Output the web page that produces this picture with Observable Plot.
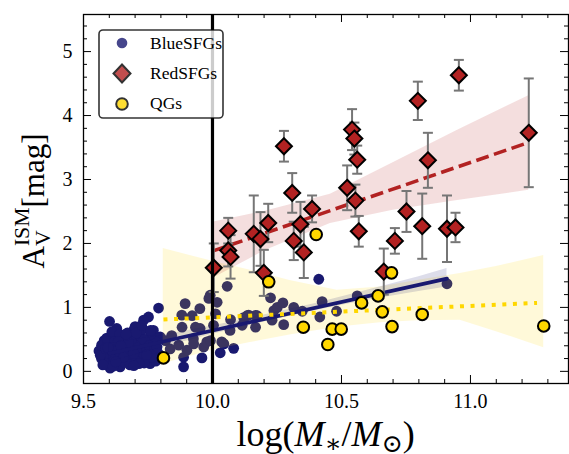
<!DOCTYPE html>
<html><head><meta charset="utf-8">
<script src="https://cdn.jsdelivr.net/npm/d3@7"></script>
<script src="https://cdn.jsdelivr.net/npm/@observablehq/plot@0.6"></script>
<style>
body{margin:0;background:#fff;}
#wrap{position:relative;width:569px;height:454px;font-family:"Liberation Serif","Times New Roman",Times,"DejaVu Serif",serif;color:#000;}
#xlab{position:absolute;left:83px;width:485px;top:416px;text-align:center;font-size:36px;line-height:36px;white-space:nowrap;}
#xlab sub{font-size:0.7em;vertical-align:-0.22em;line-height:0;}
#ylab{position:absolute;left:33px;top:201px;transform:translate(-50%,-50%) rotate(-90deg);white-space:nowrap;font-size:31px;line-height:31px;}
#ylab .ss{display:inline-block;font-size:0.7em;line-height:0.95em;vertical-align:-0.3em;text-align:left;}
#legend{position:absolute;left:98px;top:29px;}
#legend text{font-family:"Liberation Serif","Times New Roman",Times,"DejaVu Serif",serif;}
svg.plotmain text{font-family:"Liberation Serif","Times New Roman",Times,"DejaVu Serif",serif !important;}
</style></head>
<body><div id="wrap"></div>
<script>
// ---------- data ----------
const blueX = [9.601,9.791,9.752,9.733,9.580,9.629,9.578,9.642,9.603,9.694,9.771,9.797,9.758,9.707,
  9.570,9.600,9.620,9.660,9.690,9.720,9.750,9.780,
  9.560,9.590,9.610,9.640,9.670,9.700,9.730,9.760,9.790,
  9.570,9.600,9.620,9.650,9.680,9.710,9.740,9.770,
  9.590,9.630,9.660,9.690,9.720,9.750,9.780,
  9.610,9.670,9.730,9.700,
  9.565,9.585,9.655,9.685,9.715,9.745,9.680,9.620,9.640,9.760,9.735,9.766,9.760,
  9.575,9.595,9.615,9.635,9.655,9.675,9.695,9.715,9.735,9.755,9.775,9.625,9.665,9.705,9.745,9.785,9.645,9.695,9.725,
  9.818,9.836,9.842,9.869,9.881,9.882,9.888,9.888,9.894,9.901,9.921,9.926,9.927,9.934,9.951,9.952,9.959,9.966,9.978,9.986,9.991,9.992,
  10.004,10.012,10.018,10.030,10.036,10.044,10.057,10.068,10.070,10.082,10.115,10.121,10.134,10.140,10.167,10.167,10.173,
  10.225,10.231,10.238,10.251,10.273,10.276,10.315,10.348,10.412,10.416,10.425,10.481,10.561,10.909];
const blueY = [0.78,0.99,0.85,0.80,0.48,0.67,0.12,0.07,0.05,0.64,0.64,0.54,0.12,0.17,
  0.20,0.15,0.22,0.14,0.19,0.24,0.20,0.16,
  0.32,0.28,0.34,0.30,0.27,0.33,0.29,0.31,0.28,
  0.41,0.44,0.38,0.42,0.39,0.45,0.40,0.43,
  0.52,0.55,0.50,0.53,0.56,0.50,0.47,
  0.62,0.60,0.66,0.70,
  0.25,0.36,0.35,0.47,0.38,0.35,0.10,0.47,0.58,0.58,0.13,0.22,0.64,
  0.10,0.37,0.08,0.47,0.22,0.45,0.28,0.12,0.49,0.40,0.36,0.15,0.58,0.60,0.26,0.38,0.40,0.09,0.72,
  0.48,0.35,0.56,0.41,0.88,0.69,0.07,0.22,1.06,0.33,0.87,0.51,0.43,0.69,0.98,0.67,0.21,0.38,0.46,1.14,1.19,0.48,
  0.72,0.90,1.08,0.29,0.46,0.43,1.33,0.64,0.81,0.36,0.72,0.84,0.87,0.88,0.875,0.69,0.87,
  1.15,0.80,0.95,1.00,1.07,0.73,1.00,0.94,1.44,0.85,1.09,0.94,1.18,1.37];

const redX = [10.005,10.061,10.061,10.070,10.160,10.186,10.216,10.199,10.277,10.309,10.341,10.315,10.354,10.386,
  10.541,10.550,10.561,10.522,10.554,10.567,10.664,10.707,10.752,10.796,10.813,10.835,10.909,10.942,10.955,11.226];
const redY = [1.62,2.20,1.89,1.79,2.15,2.07,2.32,1.54,3.52,2.79,2.30,2.04,1.86,2.54,
  3.78,3.64,3.31,2.87,2.67,2.19,1.56,2.04,2.50,4.23,2.27,3.30,2.23,2.25,4.63,3.73];
const redErr = [0.38,0.20,0.25,0.34,0.60,0.42,0.30,0.36,0.24,0.31,0.35,0.30,0.40,0.21,
  0.32,0.25,0.22,0.35,0.25,0.24,0.36,0.20,0.32,0.30,0.51,0.43,0.52,0.23,0.24,0.85];

const qgX = [9.810,10.218,10.402,10.694,10.578,10.642,10.658,10.696,10.813,10.352,10.464,10.499,10.447,11.284];
const qgY = [0.21,1.40,2.14,1.54,1.07,1.18,0.93,0.70,0.89,0.69,0.66,0.66,0.42,0.71];

const blueFitX = [9.6, 10.909];
const blueFitY = [0.28, 1.45];
const redFitX = [10.0, 11.226];
const redFitY = [1.88, 3.58];
const qgFitX = [9.81, 11.258];
const qgFitY = [0.81, 1.07];

const blueBandX  = [9.6, 9.8, 10.0, 10.2, 10.4, 10.6, 10.8, 10.909];
const blueBandLo = [0.15, 0.37, 0.58, 0.77, 0.95, 1.11, 1.25, 1.32];
const blueBandHi = [0.43, 0.56, 0.71, 0.88, 1.06, 1.27, 1.48, 1.61];

const redBandX  = [10.0, 10.2, 10.457, 10.7, 10.95, 11.226];
const redBandLo = [1.45, 1.88, 2.31, 2.52, 2.67, 2.83];
const redBandHi = [2.33, 2.50, 2.77, 3.26, 3.77, 4.31];

const qgBandX  = [9.809, 10.0, 10.147, 10.3, 10.483, 10.65, 10.793, 10.96, 11.1, 11.284];
const qgBandLo = [0.12, 0.33, 0.45, 0.57, 0.69, 0.76, 0.79, 0.80, 0.62, 0.37];
const qgBandHi = [1.92, 1.72, 1.58, 1.42, 1.27, 1.32, 1.42, 1.53, 1.64, 1.81];

const massCut = [10.0];
const xMajor = [9.5, 10.0, 10.5, 11.0];
const xMinor = [9.6,9.7,9.8,9.9,10.1,10.2,10.3,10.4,10.6,10.7,10.8,10.9,11.1,11.2,11.3];
const yMajor = [0,1,2,3,4,5];
const yMinor = [0.2,0.4,0.6,0.8,1.2,1.4,1.6,1.8,2.2,2.4,2.6,2.8,3.2,3.4,3.6,3.8,4.2,4.4,4.6,4.8,5.2,5.4];

const seriesNames = ["BlueSFGs","RedSFGs","QGs"];

// ---------- tables ----------
const blue = blueX.map((x,i)=>({x, y: blueY[i]}));
const red = redX.map((x,i)=>({x, y: redY[i], err: redErr[i]}));
const qg = qgX.map((x,i)=>({x, y: qgY[i]}));
const band = (X,L,H)=>X.map((x,i)=>({x, lo: L[i], hi: H[i]}));
const line = (X,Y)=>X.map((x,i)=>({x, y: Y[i]}));

const W = 569, H = 454, mL = 83, mR = 1, mT = 14, mB = 71;
const pw = W - mL - mR, ph = H - mT - mB;
const SERIF = '"Liberation Serif","Times New Roman",Times,"DejaVu Serif",serif';

const NAVY = "#191970", RED = "#b22222", GOLD = "#ffd700", GREY = "#767676";
const capSymbol = {draw(ctx){ ctx.moveTo(-5,0); ctx.lineTo(5,0); }};

const chart = Plot.plot({
  width: W, height: H,
  className: "plotmain",
  marginLeft: mL, marginRight: mR, marginTop: mT, marginBottom: mB,
  style: {fontFamily: SERIF, fontSize: "20px", background: "white", color: "black"},
  x: {domain: [9.5, 11.38]},
  y: {domain: [-0.19, 5.58]},
  marks: [
    Plot.dot(blue, {x: "x", y: "y", r: 5.4, fill: NAVY, stroke: "none"}),
    Plot.areaY(band(qgBandX,qgBandLo,qgBandHi), {x: "x", y1: "lo", y2: "hi", fill: GOLD, fillOpacity: 0.15}),
    Plot.areaY(band(redBandX,redBandLo,redBandHi), {x: "x", y1: "lo", y2: "hi", fill: RED, fillOpacity: 0.15}),
    Plot.areaY(band(blueBandX,blueBandLo,blueBandHi), {x: "x", y1: "lo", y2: "hi", fill: NAVY, fillOpacity: 0.15}),
    Plot.line(line(blueFitX,blueFitY), {x: "x", y: "y", stroke: NAVY, strokeWidth: 3.6}),
    Plot.line(line(redFitX,redFitY), {x: "x", y: "y", stroke: RED, strokeWidth: 3.6, strokeDasharray: "13,5.6", strokeLinecap: "butt"}),
    Plot.line(line(qgFitX,qgFitY), {x: "x", y: "y", stroke: GOLD, strokeWidth: 4, strokeDasharray: "4,6.6", strokeLinecap: "butt"}),
    Plot.ruleX(red, {x: "x", y1: d => d.y - d.err, y2: d => d.y + d.err, stroke: GREY, strokeWidth: 2}),
    Plot.dot(red, {x: "x", y: d => d.y + d.err, symbol: capSymbol, fill: "none", stroke: GREY, strokeWidth: 2}),
    Plot.dot(red, {x: "x", y: d => d.y - d.err, symbol: capSymbol, fill: "none", stroke: GREY, strokeWidth: 2}),
    Plot.dot(red, {x: "x", y: "y", symbol: "diamond2", r: 7.2, fill: RED, stroke: "black", strokeWidth: 2}),
    Plot.dot(qg, {x: "x", y: "y", r: 5.8, fill: GOLD, stroke: "black", strokeWidth: 2}),
    Plot.ruleX(massCut, {x: d => d, stroke: "black", strokeWidth: 3.2}),
    // inward ticks on all four sides
    Plot.ruleX(xMajor, {x: d => d, insetTop: ph - 8, stroke: "black", strokeWidth: 1}),
    Plot.ruleX(xMajor, {x: d => d, insetBottom: ph - 8, stroke: "black", strokeWidth: 1}),
    Plot.ruleX(xMinor, {x: d => d, insetTop: ph - 4, stroke: "black", strokeWidth: 1}),
    Plot.ruleX(xMinor, {x: d => d, insetBottom: ph - 4, stroke: "black", strokeWidth: 1}),
    Plot.ruleY(yMajor, {y: d => d, insetRight: pw - 8, stroke: "black", strokeWidth: 1}),
    Plot.ruleY(yMajor, {y: d => d, insetLeft: pw - 8, stroke: "black", strokeWidth: 1}),
    Plot.ruleY(yMinor, {y: d => d, insetRight: pw - 4, stroke: "black", strokeWidth: 1}),
    Plot.ruleY(yMinor, {y: d => d, insetLeft: pw - 4, stroke: "black", strokeWidth: 1}),
    Plot.frame({stroke: "black", strokeWidth: 1.3}),
    Plot.axisX({ticks: xMajor, tickSize: 0, tickPadding: 10, tickFormat: d3.format(".1f"), label: null, fontSize: 20, fontFamily: SERIF}),
    Plot.axisY({ticks: yMajor, tickSize: 0, tickPadding: 11, tickFormat: d3.format("d"), label: null, fontSize: 20, fontFamily: SERIF})
  ]
});

const wrap = document.getElementById("wrap");
wrap.appendChild(chart);

// axis labels
const xl = document.createElement("div");
xl.id = "xlab";
xl.innerHTML = 'log(<i>M</i><sub>∗</sub>/<i>M</i><sub>⊙</sub>)';
wrap.appendChild(xl);
const yl = document.createElement("div");
yl.id = "ylab";
yl.innerHTML = 'A<span class="ss">ISM<br>V</span>[mag]';
wrap.appendChild(yl);

// legend
const ns = "http://www.w3.org/2000/svg";
const lg = document.createElementNS(ns, "svg");
lg.setAttribute("id", "legend");
lg.setAttribute("width", 126); lg.setAttribute("height", 90);
lg.innerHTML = `
 <rect x="1" y="1" width="124" height="88" rx="4" ry="4" fill="white" fill-opacity="0.8" stroke="black" stroke-opacity="0.8" stroke-width="1.6"/>
 <g opacity="0.8">
  <circle cx="24" cy="14" r="5.3" fill="${NAVY}"/>
  <path d="M24,35.5 L32.5,44.5 L24,53.5 L15.5,44.5 Z" fill="${RED}" stroke="black" stroke-width="2"/>
  <circle cx="24" cy="75" r="5.8" fill="${GOLD}" stroke="black" stroke-width="2"/>
 </g>
 <g font-size="17.5" fill="black">
  <text x="52" y="19.5">${seriesNames[0]}</text>
  <text x="52" y="49.5">${seriesNames[1]}</text>
  <text x="52" y="80">${seriesNames[2]}</text>
 </g>`;
wrap.appendChild(lg);
</script>
</body></html>
